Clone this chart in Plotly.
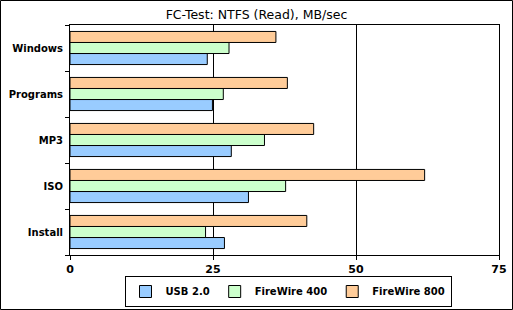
import plotly.graph_objects as go

categories = ["Install", "ISO", "MP3", "Programs", "Windows"]
usb20 = [27.0, 31.2, 28.2, 24.9, 24.0]
fw400 = [23.7, 37.7, 34.0, 26.8, 27.8]
fw800 = [41.4, 62.0, 42.6, 38.0, 36.0]
x_ticks = [0, 25, 50, 75]

W, H = 513, 310
ml, mr, mt, mb = 70, 14, 25, 55
pw, ph = W - ml - mr, H - mt - mb

fig = go.Figure()
series = [("USB 2.0", usb20, "#99ccff"), ("FireWire 400", fw400, "#ccffcc"), ("FireWire 800", fw800, "#ffcc99")]
for name, vals, col in series:
    fig.add_trace(go.Bar(y=categories, x=vals, name=name, orientation="h",
                         marker=dict(color=col, line=dict(color="black", width=1))))

fig.update_layout(
    width=W, height=H,
    margin=dict(l=ml, r=mr, t=mt, b=mb, pad=0, autoexpand=False),
    paper_bgcolor="white", plot_bgcolor="white",
    barmode="group", bargap=0.28, bargroupgap=0,
    font=dict(family="DejaVu Sans, Verdana, sans-serif", size=11, color="black"),
    title=dict(text="FC-Test: NTFS (Read), MB/sec", x=0.5, xanchor="center", y=1 - 15 / H, yanchor="middle",
               font=dict(size=12.5)),
    xaxis=dict(range=[0, 75], tickvals=x_ticks, showgrid=True, gridcolor="black", gridwidth=1,
               showline=True, linecolor="black", mirror=True, ticks="outside", ticklen=4, tickcolor="black",
               zeroline=False, automargin=False, tickfont=dict(size=11, family="DejaVu Sans", weight="bold")),
    yaxis=dict(categoryorder="array", categoryarray=categories, showline=True, linecolor="black", mirror=True,
               ticks="outside", ticklen=4, tickcolor="black", tickson="boundaries", showgrid=False,
               automargin=False, ticklabelstandoff=4,
               tickfont=dict(size=10, family="DejaVu Sans", weight="bold")),
    legend=dict(orientation="h", x=(288 - ml) / pw, xanchor="center", y=(255 - 291.5) / ph, yanchor="middle",
                bordercolor="black", borderwidth=1, bgcolor="white",
                font=dict(size=10, weight="bold"),
                traceorder="normal", itemwidth=30, tracegroupgap=0),
    showlegend=True,
)

# outer frame
fig.add_shape(type="rect", xref="paper", yref="paper",
              x0=(-ml + 0.5) / pw, x1=1 + (mr - 0.5) / pw,
              y0=(-mb + 0.5) / ph, y1=1 + (mt - 0.5) / ph,
              line=dict(color="black", width=1), layer="below")

fig.write_html("out.html")
